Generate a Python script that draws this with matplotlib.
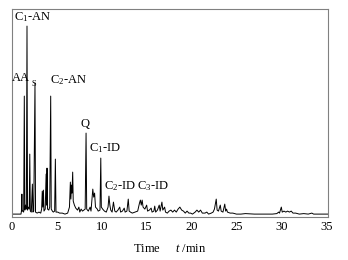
import numpy as np
import matplotlib
matplotlib.use("Agg")
import matplotlib.pyplot as plt

plt.rcParams['font.family'] = ['Liberation Serif', 'DejaVu Serif']
plt.rcParams['mathtext.fontset'] = 'custom'
plt.rcParams['mathtext.rm'] = 'Liberation Serif'
plt.rcParams['mathtext.it'] = 'Liberation Serif:italic'

# chromatogram trace (time / min, signal in arbitrary units)
time = [0, 1.0, 1.05, 1.1, 1.14, 1.2, 1.3, 1.37, 1.43, 1.5, 1.6, 1.67, 1.73, 1.8,
        1.92, 1.98, 2.04, 2.15, 2.27, 2.33, 2.42, 2.56, 2.62, 2.8, 3.0, 3.2,
        3.3, 3.37, 3.43, 3.5, 3.56, 3.7, 3.8, 3.85, 3.9, 3.96, 4.1, 4.2, 4.31,
        4.37, 4.5, 4.6, 4.75, 4.83, 4.9, 5.1, 5.3, 5.6, 5.9, 6.2, 6.4, 6.5,
        6.56, 6.62, 6.68, 6.76, 6.82, 6.95, 7.1, 7.3, 7.45, 7.55, 7.7, 7.85, 8.0,
        8.15, 8.25, 8.32, 8.5, 8.7, 8.8, 9.0, 9.1, 9.2, 9.3, 9.5, 9.6, 9.8,
        9.89, 9.95, 10.1, 10.3, 10.5, 10.7, 10.8, 10.9, 11.0, 11.15, 11.3,
        11.45, 11.6, 11.8, 12.0, 12.1, 12.3, 12.5, 12.6, 12.8, 12.95, 13.05,
        13.2, 13.4, 13.7, 14.0, 14.2, 14.3, 14.4, 14.5, 14.6, 14.8, 15.0, 15.1,
        15.3, 15.5, 15.6, 15.8, 15.9, 16.0, 16.2, 16.4, 16.5, 16.7, 16.8, 17.0,
        17.1, 17.3, 17.5, 17.7, 17.9, 18.1, 18.3, 18.5, 18.7, 18.9, 19.1, 19.3,
        19.5, 19.7, 19.9, 20.1, 20.4, 20.6, 20.8, 21.0, 21.2, 21.5, 21.7, 21.9,
        22.2, 22.4, 22.55, 22.75, 22.85, 23.0, 23.2, 23.3, 23.5, 23.7, 23.8,
        23.9, 24.0, 24.3, 24.6, 25.0, 25.5, 26.0, 27.0, 28.0, 29.0, 29.5, 29.7,
        29.8, 30.0, 30.1, 30.3, 30.5, 30.7, 30.9, 31.1, 31.3, 31.6, 32.0, 32.5,
        33.0, 33.4, 33.6, 34.0, 35.2]
signal = [1, 1, 4, 21, 4, 4, 3, 119, 5, 10, 6, 189, 5, 8,
          6, 61, 4, 3, 31, 3, 4, 132, 3, 2, 3, 2,
          6, 24, 8, 25, 4, 6, 41, 10, 47, 6, 5, 8, 119,
          6, 4, 3, 4, 56, 3, 3, 2, 2, 1, 2, 8, 33,
          16, 30, 22, 43, 14, 10, 7, 5, 8, 3, 6, 4, 5,
          6, 82, 6, 4, 8, 4, 26, 18, 22, 8, 6, 4, 5,
          57, 8, 6, 4, 3, 8, 19, 10, 5, 3, 13,
          4, 3, 5, 8, 3, 4, 7, 3, 4, 16, 4,
          3, 2, 3, 4, 12, 15, 10, 15, 8, 6, 10, 4,
          5, 7, 3, 4, 9, 3, 5, 10, 4, 13, 5, 8,
          3, 2, 4, 5, 3, 5, 3, 6, 8, 5, 4, 2,
          4, 2, 2, 1, 3, 5, 3, 5, 2, 2, 3, 1,
          2, 3, 6, 16, 5, 4, 10, 4, 3, 11, 4,
          6, 3, 2, 2, 1, 1, 1.5, 1, 1, 1, 1.5, 3,
          2, 8, 3, 4, 3, 4, 3, 4, 2, 2, 1, 1.5,
          1, 2, 1, 1, 1]

# peak labels: text, time, height
labels = ["C$_1$-AN", "AA", "S", "C$_2$-AN", "Q", "C$_1$-ID", "C$_2$-ID", "C$_3$-ID"]
label_t = [0.22, 0.0, 2.15, 4.24, 8.14, 8.58, 10.26, 13.93]
label_y = [198, 137, 131, 135, 91, 67, 29, 29]
label_size = [9, 9, 6, 9, 9, 9, 9, 9]
label_ha = ["left", "left", "left", "left", "center", "left", "left", "left"]

xticks = [0, 5, 10, 15, 20, 25, 30, 35]

fig = plt.figure(figsize=(3.48, 2.6), dpi=100)
ax = fig.add_axes([0.0345, 0.165, 0.908, 0.8])
ax.plot(time, signal, color="black", linewidth=0.7)

for txt, t, y, s, ha in zip(labels, label_t, label_y, label_size, label_ha):
    ax.text(t, y, txt, fontsize=s, ha=ha, va="center")

ax.set_xlim(0, 35.2)
ax.set_ylim(-2, 206)
ax.set_xticks(xticks)
ax.set_yticks([])
ax.tick_params(axis="x", length=0, labelsize=9, pad=3)
for sp in ax.spines.values():
    sp.set_color("#808080")
    sp.set_linewidth(0.8)
ax.set_xlabel("Time     $t$ /min", fontsize=9, labelpad=7)

fig.savefig("out.png", dpi=100)
